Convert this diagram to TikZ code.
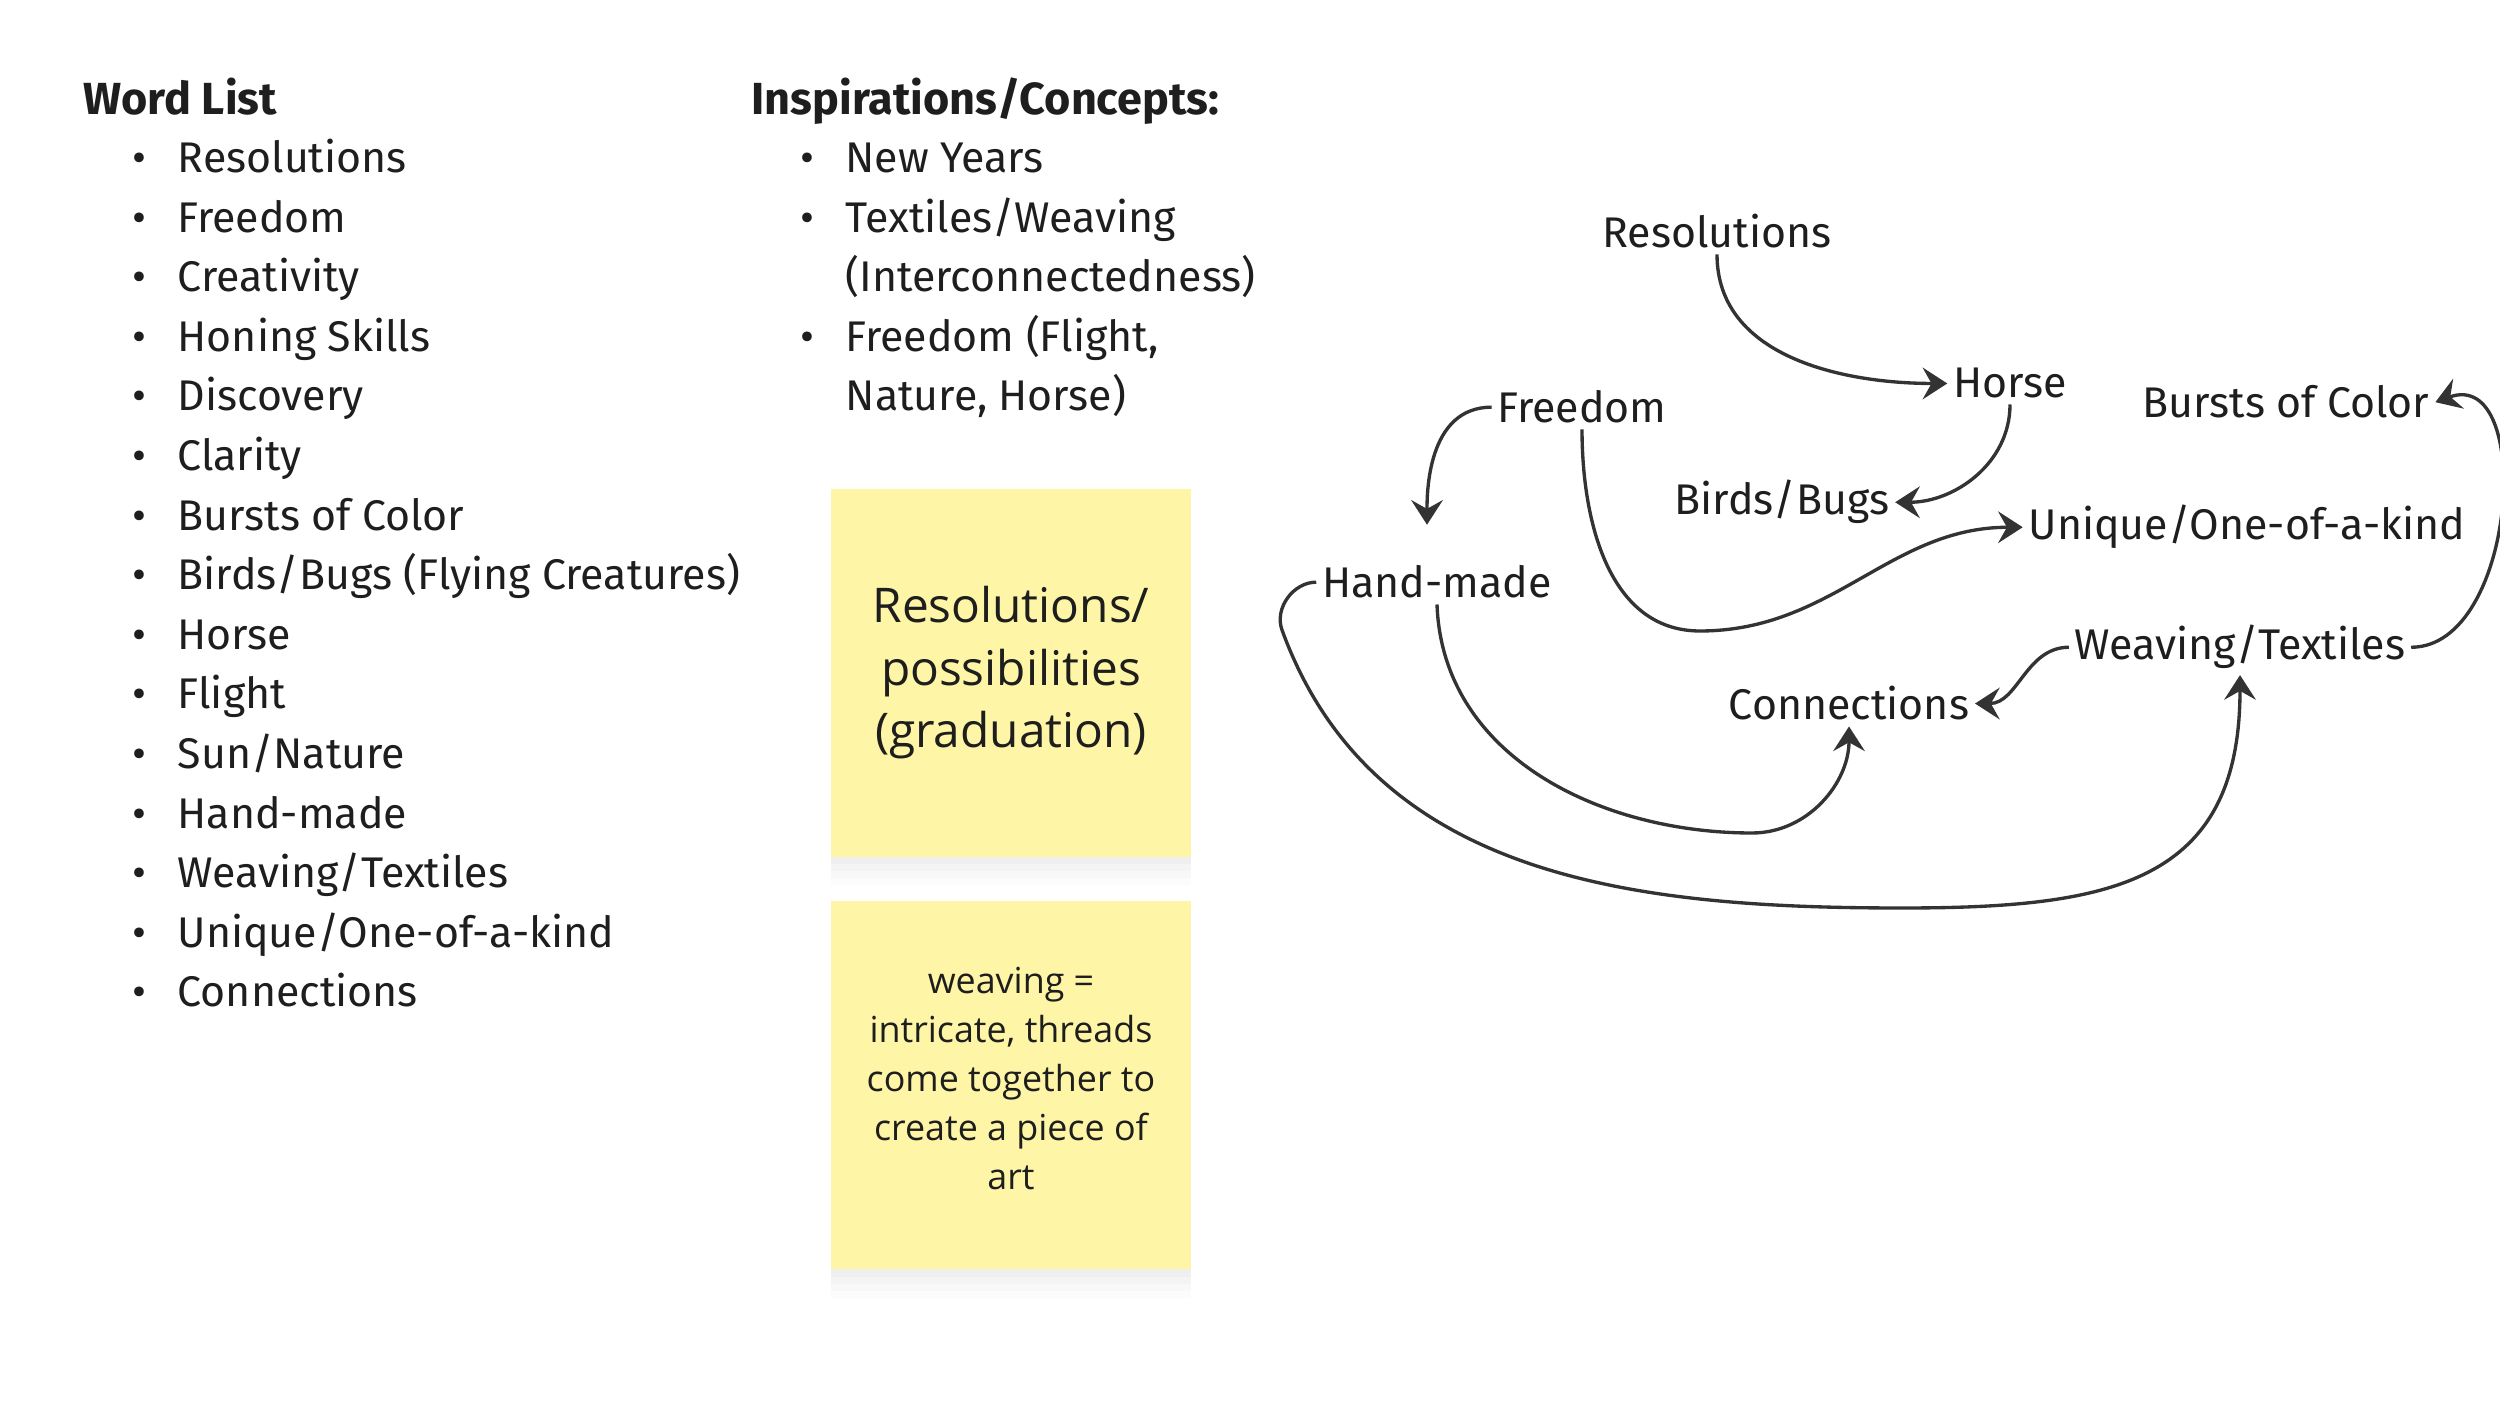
\documentclass[tikz,border=0pt]{standalone}
\usepackage{fontspec}
\setmainfont{Fira Sans}
\newfontfamily\notefont{Open Sans}
\usepackage{tikz}
\usetikzlibrary{positioning, arrows.meta, shadows}
\usepackage{xcolor}
\definecolor{inkgray}{HTML}{1E1E1E}
\definecolor{linkgray}{HTML}{333333}
\definecolor{stickyyellow}{HTML}{FEF6A6}

\newcommand{\wordsize}{\fontsize{12.2}{14.6}\selectfont}
\newcommand{\bul}[1]{\makebox[0.45cm][l]{\textbullet}#1}

\begin{document}
\begin{tikzpicture}[
    word/.style={anchor=base west, inner sep=0pt, text=inkgray, font=\wordsize},
    head/.style={anchor=base west, inner sep=0pt, text=inkgray, font=\fontsize{12.8}{15}\selectfont\bfseries},
    idea/.style={anchor=base, inner sep=1.5pt, text=inkgray, font=\wordsize},
    link/.style={draw=linkgray, line width=0.95pt, -{Stealth[length=7pt, width=9pt, inset=2.5pt]}},
    sticky/.style={fill=stickyyellow, minimum width=3.6cm, minimum height=3.68cm, align=center, text=inkgray,
        drop shadow={opacity=0.025, shadow xshift=0pt, shadow yshift=-8pt},
        drop shadow={opacity=0.03, shadow xshift=0pt, shadow yshift=-6pt},
        drop shadow={opacity=0.03, shadow xshift=0pt, shadow yshift=-4pt},
        drop shadow={opacity=0.035, shadow xshift=0pt, shadow yshift=-2pt}}
]
    % Page
    \fill[white] (0,0) rectangle (25,-14.07);
    \useasboundingbox (0,0) rectangle (25,-14.07);

    % Word list
    \node[head] (wl) at (0.83,-1.15) {Word List};
    \node[word] (wl1) at (1.32,-1.73) {\bul{Resolutions}};
    \node[word] (wl2) at (1.32,-2.33) {\bul{Freedom}};
    \node[word] (wl3) at (1.32,-2.92) {\bul{Creativity}};
    \node[word] (wl4) at (1.32,-3.52) {\bul{Honing Skills}};
    \node[word] (wl5) at (1.32,-4.11) {\bul{Discovery}};
    \node[word] (wl6) at (1.32,-4.71) {\bul{Clarity}};
    \node[word] (wl7) at (1.32,-5.31) {\bul{Bursts of Color}};
    \node[word] (wl8) at (1.32,-5.90) {\bul{Birds/Bugs (Flying Creatures)}};
    \node[word] (wl9) at (1.32,-6.50) {\bul{Horse}};
    \node[word] (wl10) at (1.32,-7.09) {\bul{Flight}};
    \node[word] (wl11) at (1.32,-7.69) {\bul{Sun/Nature}};
    \node[word] (wl12) at (1.32,-8.29) {\bul{Hand-made}};
    \node[word] (wl13) at (1.32,-8.88) {\bul{Weaving/Textiles}};
    \node[word] (wl14) at (1.32,-9.48) {\bul{Unique/One-of-a-kind}};
    \node[word] (wl15) at (1.32,-10.07) {\bul{Connections}};

    % Inspirations
    \node[head] (ic) at (7.51,-1.15) {Inspirations/Concepts:};
    \node[word] (ic1) at (8.00,-1.73) {\bul{New Years}};
    \node[word] (ic2) at (8.00,-2.33) {\bul{Textiles/Weaving}};
    \node[word] (ic2b) at (8.45,-2.92) {(Interconnectedness)};
    \node[word] (ic3) at (8.00,-3.52) {\bul{Freedom (Flight,}};
    \node[word] (ic3b) at (8.45,-4.11) {Nature, Horse)};

    % Sticky notes
    \node[sticky, font=\notefont\fontsize{13.6}{17.8}\selectfont] (n1) at (10.11,-6.73)
        {Resolutions/\\possibilities\\(graduation)};
    \node[sticky, font=\notefont\fontsize{10.2}{13.9}\selectfont] (n2) at (10.11,-10.855)
        {weaving =\\intricate, threads\\come together to\\create a piece of\\art\vspace{4pt}};

    % Map words
    \node[idea] (res) at (17.17,-2.48) {Resolutions};
    \node[idea] (horse) at (20.10,-3.98) {Horse};
    \node[idea] (free) at (15.82,-4.23) {Freedom};
    \node[idea] (burst) at (22.86,-4.18) {Bursts of Color};
    \node[idea] (birds) at (17.82,-5.15) {Birds/Bugs};
    \node[idea] (uniq) at (22.47,-5.40) {Unique/One-of-a-kind};
    \node[idea] (hand) at (14.37,-5.98) {Hand-made};
    \node[idea] (weav) at (22.40,-6.60) {Weaving/Textiles};
    \node[idea] (conn) at (18.49,-7.20) {Connections};

    % Bends of the longer links
    \coordinate (fu) at (17.00,-6.31);
    \coordinate (hc) at (17.52,-8.33);
    \coordinate (hw1) at (12.82,-6.30);
    \coordinate (hw2) at (19.02,-9.08);

    % Links
    \draw[link] (res.south) to[out=-90, in=180] (horse.west);
    \draw[link] (horse.south) to[out=-90, in=0] (birds.east);
    \draw[link, shorten >=10pt] (free.west) to[out=180, in=90] ([xshift=-0.1cm]hand.north);
    \draw[link] (free.south) to[out=-90, in=180] (fu) to[out=0, in=180] (uniq.west);
    \draw[link] (hand.south) to[out=-88, in=180] (hc) to[out=0, in=-90] (conn.south);
    \draw[link] (hand.west) to[out=180, in=110] (hw1) to[out=-70, in=180] (hw2)
        to[out=0, in=-90, looseness=1.3] (weav.south);
    \draw[link] (weav.west) to[out=180, in=0] (conn.east);
    \draw[link] (weav.east) to[out=0, in=20, looseness=1.1] (burst.east);
\end{tikzpicture}
\end{document}
